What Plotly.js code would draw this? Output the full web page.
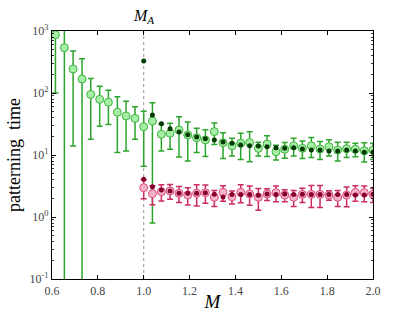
<!DOCTYPE html>
<html>
<head>
<meta charset="utf-8">
<script src="https://cdn.plot.ly/plotly-3.0.1.min.js"></script>
<style>html,body{margin:0;padding:0;background:#fff;}#chart{width:415px;height:312px;}</style>
</head>
<body>
<div id="chart"></div>
<script>
// Green open circles (full range)
const greenM = [0.615,0.654,0.692,0.731,0.769,0.808,0.846,0.885,0.923,0.962,
  1.000,1.038,1.077,1.115,1.154,1.192,1.231,1.269,1.308,1.346,1.385,1.423,1.462,1.500,
  1.538,1.577,1.615,1.654,1.692,1.731,1.769,1.808,1.846,1.885,1.923,1.962,2.000];
const greenOpen = [870,537,244,168,95,79,71,49,42.6,39,
  28.6,35.3,21.6,22.4,25.3,21.0,19.0,17.5,23.8,15.8,14.1,15.5,15.8,12.8,
  15.0,11.3,12.4,14.1,12.8,14.1,12.5,13.6,12.0,12.6,12.4,11.7,12.0];
const greenErr = [770,600,230,190,77,50,40,38,31,21,
  22,34.5,10,10,16,13,8,8,9,7,4.5,7,8,3.2,
  5.5,3,3.5,4.5,4,5,4,4,4,3.5,3,4,3.5];

// Dark green dots (M >= 1)
const dotM = [1.000,1.038,1.077,1.115,1.154,1.192,1.231,1.269,1.308,1.346,1.385,1.423,1.462,1.500,
  1.538,1.577,1.615,1.654,1.692,1.731,1.769,1.808,1.846,1.885,1.923,1.962,2.000];
const greenDots = [328,44.2,32,26.5,23.5,21.3,19.5,18.3,17.5,16.2,15.5,14.5,14.1,14.0,
  13.6,13.1,12.8,13.1,12.5,12.0,12.0,11.6,11.6,12.0,11.6,11.1,11.1];

// Pink open circles and dark crimson dots (M >= 1)
const pinkOpen = [2.97,2.38,2.56,2.63,2.41,2.26,2.41,2.47,2.08,2.50,2.12,2.50,2.35,2.08,
  2.35,2.47,2.26,2.08,2.32,2.32,2.32,2.26,2.08,2.26,2.50,2.47,2.32];
const pinkErr = [1.0,0.8,0.75,0.7,0.7,0.7,0.9,0.8,0.6,0.7,0.5,0.8,0.8,0.8,
  0.5,0.7,0.5,0.6,0.6,0.9,0.9,0.4,0.6,0.8,0.7,0.7,0.6];
const pinkDots = [4.06,3.08,2.72,2.63,2.41,2.41,2.41,2.47,2.32,2.10,2.30,2.30,2.30,2.25,
  2.35,2.30,2.35,2.30,2.32,2.30,2.30,2.30,2.30,2.30,2.26,2.26,2.32];

const xTicks = [0.6,0.8,1.0,1.2,1.4,1.6,1.8,2.0];
const xTickText = ['0.6','0.8','1.0','1.2','1.4','1.6','1.8','2.0'];
const yTicks = [0.1,1,10,100,1000];
const yTickText = ['10<sup>-1</sup>','10<sup>0</sup>','10<sup>1</sup>','10<sup>2</sup>','10<sup>3</sup>'];

const serif = 'Liberation Serif, DejaVu Serif, serif';

const traces = [
  {x: greenM, y: greenOpen, type:'scatter', mode:'markers',
   marker:{size:8, color:'#a6eea6', line:{color:'#3cb43c', width:1}},
   error_y:{type:'data', array:greenErr, visible:true, color:'#2ca52c', thickness:1.5, width:3}},
  {x: dotM, y: pinkOpen, type:'scatter', mode:'markers',
   marker:{size:8, color:'#f7b2c8', line:{color:'#d9507e', width:1}},
   error_y:{type:'data', array:pinkErr, visible:true, color:'#cc2a62', thickness:1.5, width:3}},
  {x: dotM, y: greenDots, type:'scatter', mode:'markers',
   marker:{size:5, color:'#043a04'}},
  {x: dotM, y: pinkDots, type:'scatter', mode:'markers',
   marker:{size:5, color:'#85002f'}}
];

const layout = {
  width:415, height:312,
  margin:{l:52, r:42, t:31, b:33},
  paper_bgcolor:'#fff', plot_bgcolor:'#fff',
  showlegend:false,
  font:{family:serif, color:'#333'},
  xaxis:{range:[0.6,2.0], tickvals:xTicks, ticktext:xTickText, ticks:'inside', ticklen:4,
    tickcolor:'#000', showline:true, linecolor:'#000', linewidth:1.2, mirror:'ticks',
    showgrid:false, zeroline:false, tickfont:{family:serif, size:12, color:'#444'},
    title:{text:'<i>M</i>', font:{family:serif, size:19, color:'#000'}, standoff:2}},
  yaxis:{type:'log', range:[-1,3], tickvals:yTicks, ticktext:yTickText, ticks:'inside', ticklen:4,
    tickcolor:'#000', showline:true, linecolor:'#000', linewidth:1.2, mirror:'ticks',
    showgrid:false, zeroline:false, tickfont:{family:serif, size:12, color:'#444'},
    minor:{tickmode:'linear', dtick:'D1', ticks:'inside', ticklen:2, tickcolor:'#000', tickwidth:0.8, showgrid:false},
    title:{text:'patterning  time', font:{family:serif, size:18, color:'#000'}, standoff:4}},
  shapes:[{type:'line', xref:'x', yref:'paper', x0:1.0, x1:1.0, y0:0, y1:1,
    line:{color:'#777', width:0.8, dash:'dot'}, layer:'below'}],
  annotations:[{x:1.0, y:1, xref:'x', yref:'paper', yanchor:'bottom', yshift:3, showarrow:false,
    text:'<i>M</i><sub><i>A</i></sub>', font:{family:serif, size:16, color:'#000'}}]
};

Plotly.newPlot('chart', traces, layout, {displayModeBar:false, staticPlot:true});
</script>
</body>
</html>
